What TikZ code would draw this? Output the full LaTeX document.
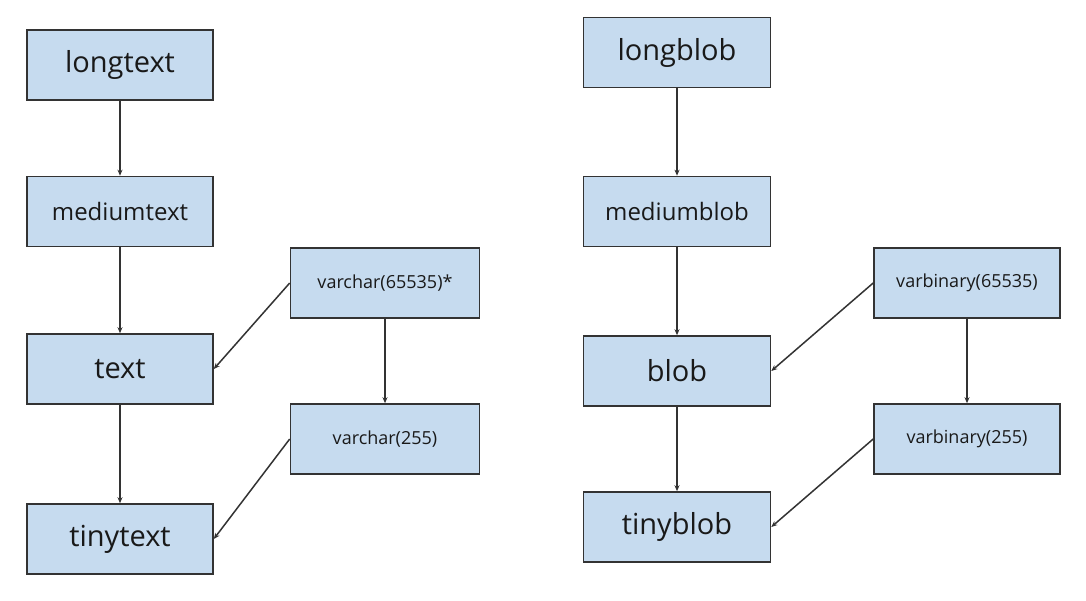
\documentclass[tikz,border=0pt]{standalone}
\usepackage{fontspec}
\setmainfont{Open Sans}
\usetikzlibrary{arrows.meta}
\definecolor{boxblue}{RGB}{198,219,239}
\definecolor{linegray}{RGB}{51,51,51}
\tikzset{
	dtype/.style={draw=linegray,fill=boxblue,text=black!90,line width=1.6pt,minimum width=186pt,minimum height=70pt,inner sep=0pt},
	big/.style={font=\fontsize{29}{31}\selectfont},
	mid/.style={font=\fontsize{24}{26}\selectfont},
	small/.style={font=\fontsize{18}{20}\selectfont},
	conv/.style={draw=linegray,line width=1.5pt,-{Stealth[length=6pt,width=5pt]}}
}

\begin{document}
\begin{tikzpicture}[x=1pt,y=-1pt]
	\fill[white] (0,0) rectangle (1086,600);
	\node[dtype,big] (longtext) at (120,65) {longtext};
	\node[dtype,mid] (mediumtext) at (120,211.5) {mediumtext};
	\node[dtype,big] (text) at (120,369) {text};
	\node[dtype,big] (tinytext) at (120,539) {tinytext};
	\node[dtype,small,minimum width=189pt] (varcharbig) at (385,283) {varchar(65535)*};
	\node[dtype,small,minimum width=189pt] (varcharsmall) at (385,439) {varchar(255)};
	\node[dtype,big,minimum width=187pt] (longblob) at (677,52.5) {longblob};
	\node[dtype,mid,minimum width=187pt] (mediumblob) at (677,211.5) {mediumblob};
	\node[dtype,big,minimum width=187pt] (blob) at (677,371) {blob};
	\node[dtype,big,minimum width=187pt] (tinyblob) at (677,527) {tinyblob};
	\node[dtype,small] (varbinarybig) at (967,283) {varbinary(65535)};
	\node[dtype,small] (varbinarysmall) at (967,439) {varbinary(255)};
	\draw[conv] (longtext) -- (mediumtext);
	\draw[conv] (mediumtext) -- (text);
	\draw[conv] (text) -- (tinytext);
	\draw[conv] (varcharbig) -- (varcharsmall);
	\draw[conv] (varcharbig.west) -- (text.east);
	\draw[conv] (varcharsmall.west) -- (tinytext.east);
	\draw[conv] (longblob) -- (mediumblob);
	\draw[conv] (mediumblob) -- (blob);
	\draw[conv] (blob) -- (tinyblob);
	\draw[conv] (varbinarybig) -- (varbinarysmall);
	\draw[conv] (varbinarybig.west) -- (blob.east);
	\draw[conv] (varbinarysmall.west) -- (tinyblob.east);
\end{tikzpicture}
\end{document}
